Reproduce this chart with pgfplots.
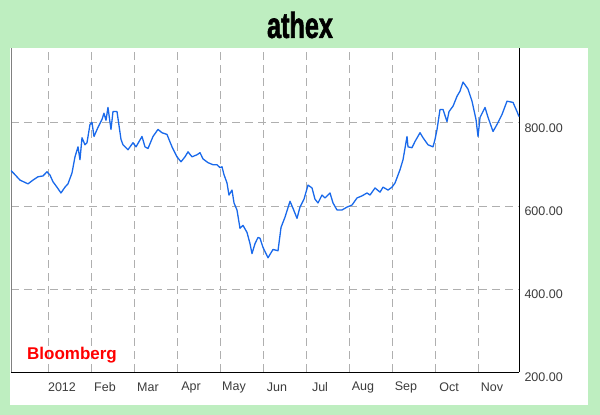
\documentclass[border=0pt]{standalone}
\usepackage{fontspec}
\setmainfont{Liberation Sans}
\newfontfamily\titlefont{Liberation Sans}[BoldFeatures={FakeBold=2}]
\usepackage{pgfplots}
\pgfplotsset{compat=1.18}
\definecolor{bggreen}{RGB}{190,238,192}
\definecolor{lineblue}{RGB}{25,105,235}
\definecolor{gridgray}{RGB}{175,175,175}
\definecolor{labgray}{RGB}{60,60,60}
\begin{document}
\begin{tikzpicture}[x=1pt,y=1pt]
\useasboundingbox (0,0) rectangle (600,415);
\fill[bggreen] (0,0) rectangle (600,415);
\fill[white] (10,10) rectangle (588,367);
\node[font=\titlefont\bfseries\fontsize{36}{36}\selectfont] at (300,390) {\scalebox{0.70}[1]{athex}};
\begin{axis}[
  at={(11pt,43pt)}, anchor=south west,
  scale only axis, width=508pt, height=324pt,
  xmin=-0.860, xmax=10.953, ymin=200, ymax=980,
  axis x line*=bottom, axis y line*=right,
  axis line style={black, line width=0.8pt},
  xtick={0,1,2,3,4,5,6,7,8,9,10},
  xticklabels={2012,Feb,Mar,Apr,May,Jun,Jul,Aug,Sep,Oct,Nov},
  ytick={200,400,600,800},
  yticklabel pos=right,
  major tick length=0pt,
  grid=major,
  major grid style={gridgray, dash pattern=on 8pt off 5pt, line width=0.6pt},
  tick label style={font=\fontsize{12.5}{12.5}\selectfont, text=labgray},
  xticklabel style={anchor=center, yshift=-15pt, xshift=14pt},
  yticklabel style={anchor=west, xshift=2pt, yshift=-5pt},
  /pgf/number format/assume math mode=true,
  yticklabel={\pgfmathprintnumber[fixed,fixed zerofill,precision=2,1000 sep={}]{\tick}},
  clip=false,
]
\draw[gray, line width=0.8pt] (rel axis cs:0,0) -- (rel axis cs:0,1);
\addplot[lineblue, line width=1.3pt, line join=round] coordinates {
(-0.860,685) (-0.767,675) (-0.651,662) (-0.465,653) (-0.349,662) (-0.233,670)
(-0.116,672) (-0.023,682) (0.047,674) (0.116,658) (0.209,645) (0.302,631)
(0.395,645) (0.465,653) (0.558,679) (0.628,718) (0.698,742) (0.744,711)
(0.791,764) (0.860,747) (0.907,752) (0.977,796) (1.023,801) (1.070,767)
(1.163,789) (1.256,808) (1.302,823) (1.349,806) (1.395,837) (1.465,784)
(1.512,827) (1.605,827) (1.698,760) (1.744,747) (1.860,735) (1.977,752)
(2.047,742) (2.186,767) (2.256,742) (2.326,738) (2.442,767) (2.558,784)
(2.651,776) (2.767,772) (2.884,742) (3.000,718) (3.093,706) (3.186,718)
(3.256,730) (3.349,718) (3.465,723) (3.535,728) (3.605,713) (3.721,704)
(3.837,699) (3.930,699) (4.000,692) (4.047,694) (4.093,675) (4.163,655)
(4.209,626) (4.279,638) (4.326,607) (4.395,590) (4.465,546) (4.535,553)
(4.628,536) (4.698,509) (4.744,485) (4.814,509) (4.884,524) (4.930,522)
(5.000,500) (5.116,475) (5.233,495) (5.349,492) (5.419,548) (5.512,573)
(5.628,611) (5.698,594) (5.791,570) (5.860,597) (5.953,616) (6.047,650)
(6.140,643) (6.209,616) (6.279,607) (6.372,626) (6.442,619) (6.558,631)
(6.628,607) (6.721,590) (6.837,590) (6.953,597) (7.070,602) (7.186,619)
(7.302,624) (7.419,631) (7.488,626) (7.605,643) (7.721,633) (7.791,645)
(7.907,638) (8.000,645) (8.070,655) (8.186,687) (8.256,711) (8.349,767)
(8.372,742) (8.465,740) (8.535,755) (8.651,776) (8.721,764) (8.837,747)
(8.953,742) (9.000,760) (9.047,784) (9.116,832) (9.186,832) (9.279,803)
(9.326,827) (9.419,840) (9.512,864) (9.581,876) (9.651,898) (9.721,888)
(9.767,881) (9.860,852) (9.953,808) (10.000,767) (10.047,813) (10.163,837)
(10.233,813) (10.349,779) (10.442,796) (10.558,820) (10.674,852) (10.814,849)
(10.907,827) (10.953,815)
};
\end{axis}
\node[font=\bfseries\fontsize{17}{17}\selectfont, text=red] at (72,60) {Bloomberg};
\end{tikzpicture}
\end{document}
